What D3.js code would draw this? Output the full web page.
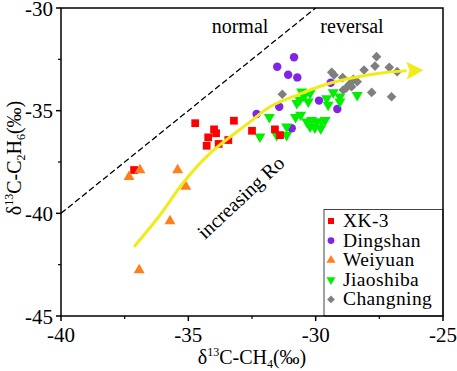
<!DOCTYPE html>
<html>
<head>
<meta charset="utf-8">
<script src="https://cdn.jsdelivr.net/npm/d3@7"></script>
<style>
  body { margin: 0; background: #fff; }
  svg { display: block; }
</style>
</head>
<body>
<svg id="chart" width="457" height="371" font-family="Liberation Serif, Times New Roman, serif"></svg>
<script>
// data (x = d13C-CH4, y = d13C-C2H6, permil)
const xk3 = [
    [-34.73, -35.61], [-33.99, -35.91], [-33.91, -36.10], [-34.22, -36.30],
    [-34.28, -36.71], [-33.81, -36.62], [-33.43, -36.43], [-37.13, -37.89],
    [-33.21, -35.49], [-32.50, -35.98], [-31.60, -35.91], [-31.40, -36.19]
];
const dingshan = [
    [-30.85, -32.40], [-31.51, -32.86], [-31.08, -33.25], [-30.72, -33.38],
    [-32.32, -35.16], [-31.43, -34.81], [-29.87, -34.51], [-30.94, -35.86],
    [-29.41, -33.64], [-29.15, -34.92]
];
const weiyuan = [
    [-37.33, -38.22], [-36.90, -37.89], [-35.42, -37.89], [-35.10, -38.70],
    [-35.72, -40.38], [-36.93, -42.76]
];
const jiaoshiba = [
    [-31.82, -35.32], [-30.55, -34.08], [-30.22, -34.15], [-30.62, -34.48],
    [-30.29, -34.56], [-29.57, -34.40], [-30.79, -35.32], [-30.59, -35.21],
    [-30.35, -35.54], [-30.16, -35.46], [-29.96, -35.54], [-29.76, -35.54],
    [-29.63, -35.46], [-30.22, -35.78], [-30.03, -35.83], [-29.80, -35.86],
    [-31.14, -35.78], [-31.53, -36.19], [-31.14, -36.19], [-32.19, -36.27],
    [-29.31, -34.11], [-29.05, -34.32], [-28.37, -34.24], [-29.51, -34.72],
    [-29.05, -34.56], [-30.46, -34.30], [-30.74, -34.63]
];
const changning = [
    [-31.31, -34.20], [-29.37, -33.13], [-28.94, -33.39], [-28.52, -33.47],
    [-28.68, -33.72], [-28.81, -33.91], [-28.92, -33.99], [-28.10, -33.02],
    [-27.61, -32.37], [-27.67, -32.83], [-27.11, -32.89], [-26.80, -33.10],
    [-27.80, -34.11], [-27.02, -34.32], [-29.28, -33.26], [-28.37, -33.59],
    [-28.59, -33.83]
];
// trend arrow ("increasing Ro")
const trend = [
    [-37.13, -41.63], [-36.11, -40.08], [-35.17, -38.46], [-34.15, -37.08],
    [-32.65, -35.62], [-31.79, -34.81], [-30.88, -34.32], [-29.79, -33.80],
    [-28.78, -33.46], [-27.48, -33.18], [-26.43, -33.05]
];
const trendTip = [-25.77, -33.03];
const boundary = [[-40, -40], [-30, -30]];

const xTicks = [-40, -35, -30, -25];
const yTicks = [-45, -40, -35, -30];
const xMinor = [-37.5, -32.5, -27.5];
const yMinor = [-42.5, -37.5, -32.5];

const FONT = '"Liberation Serif", "Times New Roman", serif';

const svg = d3.select('#chart');
const plotL = 61, plotR = 443, plotT = 8, plotB = 316;

const x = d3.scaleLinear().domain([-40, -25]).range([plotL, plotR]);
const y = d3.scaleLinear().domain([-45, -30]).range([plotB, plotT]);

// dashed normal / reversal boundary
svg.append('path')
    .attr('d', d3.line().x(d => x(d[0])).y(d => y(d[1]))(boundary))
    .attr('fill', 'none')
    .attr('stroke', '#000')
    .attr('stroke-width', 1.3)
    .attr('stroke-dasharray', '6,3');

svg.append('text').attr('x', 240).attr('y', 33).attr('text-anchor', 'middle')
    .style('font-family', FONT).style('font-size', '20px').text('normal');
svg.append('text').attr('x', 352).attr('y', 33).attr('text-anchor', 'middle')
    .style('font-family', FONT).style('font-size', '20px').text('reversal');

// series
const series = [
    { name: 'XK-3', data: xk3, color: '#ff0000', type: d3.symbolSquare, size: 60, rot: 0 },
    { name: 'Dingshan', data: dingshan, color: '#8224e3', type: d3.symbolCircle, size: 56, rot: 0 },
    { name: 'Weiyuan', data: weiyuan, color: '#ff7f1e', type: d3.symbolTriangle, size: 52, rot: 0 },
    { name: 'Jiaoshiba', data: jiaoshiba, color: '#00ee00', type: d3.symbolTriangle, size: 52, rot: 180 },
    { name: 'Changning', data: changning, color: '#7f7f7f', type: d3.symbolSquare, size: 46, rot: 45 }
];

const order = [4, 1, 3, 0, 2];
order.forEach(i => {
    const s = series[i];
    svg.append('g').selectAll('path')
        .data(s.data)
        .enter()
        .append('path')
        .attr('d', d3.symbol().type(s.type).size(s.size))
        .attr('transform', d => `translate(${x(d[0])},${y(d[1])}) rotate(${s.rot})`)
        .attr('fill', s.color);
});

// yellow arrow
const yellow = '#f0ec18';
svg.append('path')
    .attr('d', d3.line().x(d => x(d[0])).y(d => y(d[1])).curve(d3.curveCatmullRom)(trend))
    .attr('fill', 'none')
    .attr('stroke', yellow)
    .attr('stroke-width', 3);

const bx = x(trend[trend.length - 1][0]), by = y(trend[trend.length - 1][1]);
const tx = x(trendTip[0]), ty = y(trendTip[1]);
const ang = Math.atan2(ty - by, tx - bx);
const len = Math.hypot(tx - bx, ty - by);
svg.append('path')
    .attr('d', `M${len},0 L0,-9 L3,0 L0,9 Z`)
    .attr('transform', `translate(${bx},${by}) rotate(${ang * 180 / Math.PI})`)
    .attr('fill', yellow);

svg.append('text')
    .attr('transform', 'translate(205,240) rotate(-43)')
    .style('font-family', FONT)
    .style('font-size', '20px')
    .text('increasing Ro');

// legend
const lg = svg.append('g');
lg.append('rect')
    .attr('x', 324).attr('y', 209.5)
    .attr('width', plotR - 324).attr('height', plotB - 209.5)
    .attr('fill', '#fff')
    .attr('stroke', '#444')
    .attr('stroke-width', 1);
series.forEach((s, i) => {
    const cy = 221 + i * 19.6;
    lg.append('path')
        .attr('d', d3.symbol().type(s.type).size(s.rot === 45 ? 30 : 36))
        .attr('transform', `translate(331,${cy}) rotate(${s.rot})`)
        .attr('fill', s.color);
    lg.append('text')
        .attr('x', 343).attr('y', cy + 6)
        .style('font-family', FONT)
        .style('font-size', '19.5px')
        .style('letter-spacing', '0.4px')
        .text(s.name);
});

// frame
svg.append('rect')
    .attr('x', plotL).attr('y', plotT)
    .attr('width', plotR - plotL).attr('height', plotB - plotT)
    .attr('fill', 'none')
    .attr('stroke', '#000')
    .attr('stroke-width', 1.5);

// axes
const xAxis = svg.append('g').attr('transform', `translate(0,${plotB})`);
xAxis.selectAll('line.major').data(xTicks).enter().append('line')
    .attr('x1', d => x(d)).attr('x2', d => x(d)).attr('y1', 0).attr('y2', 5)
    .attr('stroke', '#000').attr('stroke-width', 1.5);
xAxis.selectAll('line.minor').data(xMinor).enter().append('line')
    .attr('x1', d => x(d)).attr('x2', d => x(d)).attr('y1', 0).attr('y2', 3)
    .attr('stroke', '#000').attr('stroke-width', 1.2);
xAxis.selectAll('text').data(xTicks).enter().append('text')
    .attr('x', d => x(d)).attr('y', 26)
    .attr('text-anchor', 'middle')
    .style('font-family', FONT)
    .style('font-size', '21px')
    .text(d => d);

const yAxis = svg.append('g').attr('transform', `translate(${plotL},0)`);
yAxis.selectAll('line.major').data(yTicks).enter().append('line')
    .attr('x1', -5).attr('x2', 0).attr('y1', d => y(d)).attr('y2', d => y(d))
    .attr('stroke', '#000').attr('stroke-width', 1.5);
yAxis.selectAll('line.minor').data(yMinor).enter().append('line')
    .attr('x1', -3).attr('x2', 0).attr('y1', d => y(d)).attr('y2', d => y(d))
    .attr('stroke', '#000').attr('stroke-width', 1.2);
yAxis.selectAll('text').data(yTicks).enter().append('text')
    .attr('x', -8).attr('y', d => y(d) + 7.5)
    .attr('text-anchor', 'end')
    .style('font-family', FONT)
    .style('font-size', '21px')
    .text(d => d);

// axis titles
const xt = svg.append('text').attr('x', 252).attr('y', 364)
    .attr('text-anchor', 'middle')
    .style('font-family', FONT).style('font-size', '20px');
xt.append('tspan').text('δ');
xt.append('tspan').attr('dy', -8).style('font-size', '12px').text('13');
xt.append('tspan').attr('dy', 8).text('C-CH');
xt.append('tspan').attr('dy', 4).style('font-size', '12px').text('4');
xt.append('tspan').attr('dy', -4).text('(‰)');

const yt = svg.append('text')
    .attr('transform', 'translate(21,158) rotate(-90)')
    .attr('text-anchor', 'middle')
    .style('font-family', FONT).style('font-size', '20px');
yt.append('tspan').text('δ');
yt.append('tspan').attr('dy', -8).style('font-size', '12px').text('13');
yt.append('tspan').attr('dy', 8).text('C-C');
yt.append('tspan').attr('dy', 4).style('font-size', '12px').text('2');
yt.append('tspan').attr('dy', -4).text('H');
yt.append('tspan').attr('dy', 4).style('font-size', '12px').text('6');
yt.append('tspan').attr('dy', -4).text('(‰)');
</script>
</body>
</html>
